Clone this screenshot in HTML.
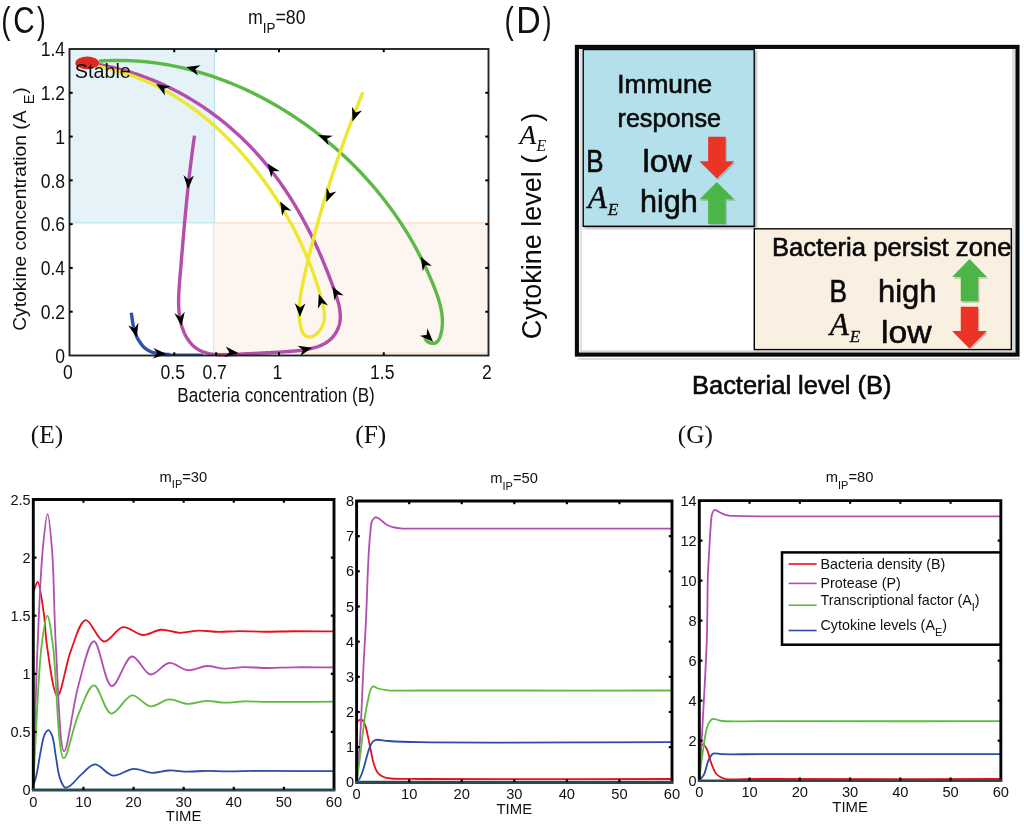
<!DOCTYPE html>
<html><head><meta charset="utf-8"><style>
html,body{margin:0;padding:0;background:#fff;width:1024px;height:825px;overflow:hidden;font-family:"Liberation Sans", sans-serif;}
</style></head><body>
<svg width="1024" height="825" viewBox="0 0 1024 825" style="position:absolute;left:0;top:0;will-change:transform">
<rect x="0" y="0" width="1024" height="825" fill="#fff"/>
<rect x="69.5" y="49.0" width="145.0" height="173.8" fill="#e5f3f8" stroke="#bce4ee" stroke-width="1.2"/>
<rect x="213.6" y="222.9" width="274.9" height="130.1" fill="#fdf5ef" stroke="#fcdcc2" stroke-width="1.2"/>
<path d="M425.35,335.04 L425.03,336.69 L425.14,338.18 L425.62,339.48 L426.40,340.61 L427.42,341.55 L428.61,342.29 L429.92,342.85 L431.27,343.20 L432.61,343.36 L433.87,343.31 L435.01,343.05 L436.02,342.60 L436.92,341.99 L437.71,341.23 L438.40,340.34 L439.01,339.34 L439.54,338.25 L440.00,337.10 L440.41,335.89 L440.76,334.66 L441.08,333.42 L441.36,332.18 L441.60,330.94 L441.81,329.70 L441.99,328.46 L442.13,327.22 L442.25,325.98 L442.33,324.73 L442.38,323.49 L442.40,322.25 L442.40,321.01 L442.37,319.77 L442.31,318.53 L442.22,317.29 L442.11,316.05 L441.98,314.81 L441.82,313.58 L441.64,312.34 L441.43,311.10 L441.21,309.87 L440.96,308.64 L440.70,307.40 L440.42,306.17 L440.12,304.94 L439.80,303.71 L439.46,302.49 L439.11,301.26 L438.75,300.04 L438.37,298.81 L437.98,297.59 L437.57,296.37 L437.16,295.16 L436.73,293.94 L436.29,292.73 L435.85,291.52 L435.40,290.31 L434.93,289.10 L434.47,287.90 L433.99,286.70 L433.51,285.50 L433.03,284.30 L432.54,283.11 L432.05,281.92 L431.55,280.73 L431.05,279.55 L430.55,278.36 L430.04,277.18 L429.53,276.01 L429.02,274.83 L428.50,273.66 L427.98,272.49 L427.45,271.32 L426.92,270.16 L426.39,269.00 L425.85,267.84 L425.31,266.68 L424.76,265.53 L424.21,264.38 L423.66,263.23 L423.10,262.09 L422.54,260.94 L421.98,259.80 L421.41,258.67 L420.84,257.53 L420.26,256.40 L419.68,255.27 L419.10,254.14 L418.51,253.02 L417.92,251.90 L417.33,250.78 L416.73,249.66 L416.13,248.55 L415.52,247.44 L414.91,246.33 L414.30,245.22 L413.69,244.12 L413.06,243.02 L412.44,241.92 L411.81,240.83 L411.18,239.74 L410.55,238.65 L409.91,237.56 L409.27,236.48 L408.62,235.40 L407.97,234.32 L407.32,233.24 L406.66,232.17 L406.00,231.10 L405.33,230.03 L404.67,228.96 L404.00,227.90 L403.32,226.84 L402.64,225.78 L401.96,224.73 L401.27,223.67 L400.58,222.62 L399.89,221.58 L399.19,220.53 L398.49,219.49 L397.79,218.45 L397.08,217.42 L396.37,216.38 L395.66,215.35 L394.94,214.32 L394.22,213.30 L393.49,212.27 L392.77,211.25 L392.03,210.24 L391.30,209.22 L390.56,208.21 L389.82,207.20 L389.07,206.19 L388.32,205.19 L387.57,204.18 L386.81,203.19 L386.05,202.19 L385.29,201.19 L384.52,200.20 L383.75,199.21 L382.98,198.23 L382.20,197.25 L381.42,196.26 L380.64,195.29 L379.85,194.31 L379.06,193.34 L378.27,192.37 L377.47,191.40 L376.67,190.44 L375.86,189.47 L375.05,188.51 L374.24,187.56 L373.43,186.60 L372.61,185.65 L371.79,184.70 L370.97,183.76 L370.14,182.81 L369.31,181.87 L368.47,180.93 L367.63,180.00 L366.79,179.07 L365.95,178.13 L365.10,177.21 L364.25,176.28 L363.39,175.36 L362.54,174.44 L361.68,173.52 L360.81,172.61 L359.94,171.70 L359.07,170.79 L358.20,169.88 L357.32,168.98 L356.44,168.08 L355.56,167.18 L354.67,166.28 L353.78,165.39 L352.88,164.50 L351.99,163.61 L351.09,162.72 L350.18,161.84 L349.28,160.96 L348.37,160.08 L347.46,159.21 L346.54,158.34 L345.62,157.47 L344.70,156.60 L343.77,155.74 L342.84,154.88 L341.91,154.02 L340.98,153.16 L340.04,152.31 L339.10,151.46 L338.16,150.62 L337.21,149.77 L336.26,148.93 L335.31,148.09 L334.35,147.26 L333.39,146.43 L332.43,145.60 L331.47,144.77 L330.50,143.95 L329.53,143.13 L328.56,142.32 L327.58,141.50 L326.60,140.69 L325.62,139.88 L324.64,139.08 L323.65,138.28 L322.66,137.48 L321.67,136.69 L320.67,135.89 L319.68,135.11 L318.68,134.32 L317.67,133.54 L316.67,132.76 L315.66,131.98 L314.65,131.21 L313.63,130.44 L312.61,129.68 L311.59,128.91 L310.57,128.15 L309.55,127.40 L308.52,126.65 L307.49,125.90 L306.46,125.15 L305.42,124.41 L304.39,123.67 L303.35,122.94 L302.30,122.20 L301.26,121.48 L300.21,120.75 L299.16,120.03 L298.11,119.31 L297.05,118.60 L296.00,117.89 L294.94,117.18 L293.87,116.47 L292.81,115.77 L291.74,115.08 L290.67,114.38 L289.60,113.70 L288.53,113.01 L287.45,112.33 L286.37,111.65 L285.29,110.98 L284.21,110.30 L283.12,109.64 L282.04,108.97 L280.95,108.31 L279.86,107.66 L278.76,107.01 L277.67,106.36 L276.57,105.71 L275.47,105.07 L274.36,104.44 L273.26,103.80 L272.15,103.18 L271.04,102.55 L269.93,101.93 L268.82,101.31 L267.70,100.70 L266.59,100.09 L265.47,99.49 L264.34,98.88 L263.22,98.29 L262.10,97.69 L260.97,97.10 L259.84,96.52 L258.71,95.94 L257.57,95.36 L256.44,94.79 L255.30,94.22 L254.16,93.66 L253.02,93.10 L251.88,92.54 L250.74,91.99 L249.59,91.44 L248.44,90.90 L247.29,90.36 L246.14,89.82 L244.99,89.29 L243.83,88.77 L242.68,88.24 L241.52,87.73 L240.36,87.21 L239.19,86.70 L238.03,86.20 L236.86,85.70 L235.70,85.20 L234.53,84.71 L233.36,84.22 L232.19,83.74 L231.01,83.26 L229.84,82.79 L228.66,82.32 L227.48,81.85 L226.30,81.39 L225.12,80.94 L223.94,80.49 L222.75,80.04 L221.57,79.60 L220.38,79.16 L219.19,78.73 L218.00,78.30 L216.81,77.88 L215.62,77.46 L214.42,77.04 L213.23,76.63 L212.03,76.23 L210.83,75.83 L209.63,75.43 L208.43,75.04 L207.23,74.66 L206.02,74.28 L204.82,73.90 L203.61,73.53 L202.40,73.16 L201.19,72.80 L199.98,72.44 L198.77,72.09 L197.56,71.74 L196.34,71.40 L195.13,71.06 L193.91,70.73 L192.69,70.40 L191.48,70.08 L190.26,69.76 L189.03,69.45 L187.81,69.14 L186.59,68.84 L185.37,68.54 L184.14,68.25 L182.91,67.96 L181.69,67.68 L180.46,67.41 L179.23,67.13 L178.00,66.87 L176.77,66.61 L175.53,66.35 L174.30,66.10 L173.07,65.85 L171.83,65.61 L170.60,65.38 L169.36,65.15 L168.12,64.92 L166.88,64.70 L165.64,64.49 L164.40,64.28 L163.16,64.07 L161.92,63.88 L160.68,63.68 L159.43,63.50 L158.19,63.31 L156.95,63.14 L155.70,62.97 L154.45,62.80 L153.21,62.64 L151.96,62.48 L150.71,62.33 L149.46,62.19 L148.21,62.05 L146.96,61.92 L145.71,61.79 L144.46,61.67 L143.21,61.55 L141.95,61.44 L140.70,61.34 L139.45,61.24 L138.19,61.15 L136.94,61.06 L135.68,60.97 L134.42,60.90 L133.17,60.83 L131.91,60.76 L130.65,60.70 L129.40,60.65 L128.14,60.60 L126.88,60.56 L125.62,60.52 L124.36,60.49 L123.10,60.47 L121.84,60.45 L120.58,60.44 L119.32,60.43 L118.06,60.43 L116.80,60.43 L115.54,60.44 L114.27,60.46 L113.01,60.48 L111.75,60.51 L110.49,60.54 L109.22,60.58 L107.96,60.63 L106.70,60.68 L105.43,60.74 L104.17,60.81 L102.91,60.88 L101.64,60.96 L100.38,61.04 L99.11,61.13" fill="none" stroke="#5cb947" stroke-width="3.4" stroke-linecap="butt" stroke-linejoin="round"/>
<path d="M194.53,135.63 L194.25,137.56 L193.98,139.48 L193.70,141.40 L193.43,143.31 L193.17,145.22 L192.91,147.13 L192.65,149.04 L192.39,150.94 L192.14,152.83 L191.90,154.73 L191.65,156.62 L191.41,158.50 L191.17,160.39 L190.94,162.27 L190.70,164.15 L190.48,166.03 L190.25,167.90 L190.03,169.78 L189.81,171.65 L189.59,173.52 L189.37,175.38 L189.16,177.25 L188.95,179.11 L188.75,180.97 L188.54,182.83 L188.34,184.69 L188.14,186.55 L187.94,188.41 L187.75,190.26 L187.55,192.12 L187.36,193.97 L187.17,195.82 L186.99,197.68 L186.80,199.53 L186.62,201.38 L186.43,203.23 L186.25,205.08 L186.08,206.93 L185.90,208.79 L185.72,210.64 L185.55,212.49 L185.38,214.34 L185.20,216.20 L185.03,218.05 L184.87,219.91 L184.70,221.76 L184.53,223.62 L184.36,225.48 L184.20,227.33 L184.04,229.19 L183.87,231.06 L183.71,232.92 L183.55,234.79 L183.39,236.65 L183.23,238.52 L183.07,240.39 L182.91,242.26 L182.75,244.14 L182.59,246.02 L182.43,247.90 L182.27,249.78 L182.11,251.67 L181.95,253.55 L181.79,255.45 L181.63,257.34 L181.47,259.24 L181.32,261.14 L181.16,263.04 L181.00,264.95 L180.84,266.86 L180.68,268.78 L180.51,270.69 L180.35,272.62 L180.19,274.54 L180.03,276.47 L179.86,278.41 L179.70,280.35 L179.54,282.29 L179.39,284.23 L179.24,286.18 L179.10,288.12 L178.98,290.06 L178.87,292.01 L178.77,293.95 L178.69,295.88 L178.64,297.81 L178.60,299.74 L178.59,301.66 L178.60,303.58 L178.65,305.49 L178.72,307.39 L178.83,309.28 L178.97,311.16 L179.15,313.03 L179.37,314.89 L179.63,316.73 L179.93,318.56 L180.28,320.38 L180.68,322.19 L181.12,323.97 L181.62,325.75 L182.17,327.50 L182.77,329.23 L183.44,330.95 L184.16,332.64 L184.95,334.31 L185.79,335.94 L186.69,337.53 L187.66,339.08 L188.68,340.58 L189.77,342.01 L190.91,343.39 L192.12,344.70 L193.39,345.93 L194.73,347.09 L196.13,348.16 L197.58,349.14 L199.11,350.03 L200.69,350.82 L202.33,351.53 L204.01,352.15 L205.75,352.69 L207.53,353.17 L209.35,353.57 L211.21,353.91 L213.10,354.18 L215.02,354.40 L216.96,354.57 L218.93,354.69 L220.91,354.77 L222.91,354.81 L224.91,354.81 L226.92,354.78 L228.94,354.73 L230.95,354.66 L232.96,354.57 L234.95,354.47 L236.94,354.36 L238.91,354.24 L240.85,354.13 L242.78,354.02 L244.68,353.91 L246.56,353.81 L248.43,353.71 L250.28,353.61 L252.11,353.52 L253.93,353.42 L255.75,353.33 L257.55,353.24 L259.35,353.15 L261.15,353.06 L262.94,352.97 L264.73,352.88 L266.53,352.78 L268.32,352.69 L270.12,352.60 L271.93,352.50 L273.75,352.40 L275.58,352.30 L277.42,352.19 L279.28,352.08 L281.16,351.97 L283.05,351.85 L284.96,351.73 L286.90,351.60 L288.86,351.46 L290.83,351.32 L292.82,351.16 L294.82,350.99 L296.83,350.80 L298.84,350.58 L300.85,350.34 L302.85,350.08 L304.83,349.77 L306.81,349.44 L308.77,349.07 L310.70,348.65 L312.60,348.19 L314.48,347.68 L316.32,347.12 L318.12,346.51 L319.87,345.84 L321.58,345.11 L323.23,344.32 L324.83,343.45 L326.37,342.52 L327.85,341.52 L329.25,340.44 L330.59,339.28 L331.85,338.05 L333.03,336.75 L334.13,335.38 L335.15,333.95 L336.08,332.47 L336.93,330.93 L337.69,329.35 L338.35,327.72 L338.93,326.05 L339.40,324.35 L339.77,322.62 L340.05,320.86 L340.22,319.08 L340.30,317.28 L340.29,315.46 L340.20,313.62 L340.03,311.76 L339.79,309.89 L339.48,308.01 L339.12,306.12 L338.69,304.23 L338.22,302.33 L337.70,300.43 L337.14,298.52 L336.54,296.62 L335.92,294.72 L335.28,292.83 L334.62,290.94 L333.94,289.06 L333.26,287.20 L332.58,285.35 L331.89,283.51 L331.21,281.69 L330.53,279.88 L329.84,278.08 L329.16,276.29 L328.47,274.52 L327.78,272.75 L327.09,270.99 L326.39,269.25 L325.69,267.51 L324.99,265.78 L324.29,264.05 L323.58,262.33 L322.86,260.62 L322.14,258.92 L321.41,257.21 L320.68,255.51 L319.94,253.82 L319.20,252.13 L318.44,250.43 L317.68,248.74 L316.92,247.06 L316.14,245.37 L315.36,243.68 L314.56,242.00 L313.76,240.32 L312.96,238.63 L312.14,236.95 L311.32,235.28 L310.49,233.60 L309.65,231.93 L308.80,230.26 L307.95,228.59 L307.08,226.92 L306.21,225.26 L305.33,223.60 L304.44,221.94 L303.55,220.29 L302.65,218.64 L301.73,216.99 L300.81,215.35 L299.89,213.71 L298.95,212.07 L298.01,210.44 L297.05,208.81 L296.09,207.18 L295.12,205.56 L294.15,203.95 L293.16,202.33 L292.17,200.73 L291.16,199.12 L290.15,197.52 L289.13,195.93 L288.11,194.34 L287.07,192.76 L286.02,191.18 L284.97,189.61 L283.91,188.04 L282.84,186.48 L281.76,184.92 L280.68,183.37 L279.58,181.83 L278.48,180.29 L277.36,178.76 L276.24,177.23 L275.11,175.71 L273.97,174.20 L272.83,172.69 L271.67,171.20 L270.51,169.70 L269.33,168.22 L268.15,166.74 L266.96,165.27 L265.76,163.81 L264.55,162.35 L263.33,160.90 L262.11,159.46 L260.87,158.03 L259.63,156.61 L258.37,155.19 L257.11,153.78 L255.84,152.38 L254.56,150.99 L253.27,149.61 L251.98,148.24 L250.67,146.87 L249.36,145.51 L248.04,144.17 L246.70,142.83 L245.36,141.50 L244.02,140.17 L242.66,138.86 L241.30,137.56 L239.92,136.26 L238.54,134.97 L237.15,133.70 L235.76,132.43 L234.35,131.17 L232.94,129.92 L231.52,128.68 L230.09,127.45 L228.65,126.23 L227.21,125.01 L225.76,123.81 L224.30,122.62 L222.83,121.43 L221.36,120.26 L219.87,119.09 L218.38,117.94 L216.89,116.80 L215.38,115.66 L213.87,114.54 L212.35,113.42 L210.83,112.32 L209.30,111.22 L207.76,110.14 L206.21,109.06 L204.66,108.00 L203.10,106.94 L201.53,105.90 L199.96,104.87 L198.37,103.84 L196.79,102.83 L195.19,101.83 L193.59,100.84 L191.99,99.86 L190.37,98.89 L188.75,97.93 L187.13,96.98 L185.50,96.05 L183.86,95.12 L182.21,94.20 L180.56,93.30 L178.91,92.41 L177.24,91.53 L175.57,90.66 L173.90,89.80 L172.22,88.95 L170.53,88.11 L168.84,87.29 L167.15,86.47 L165.44,85.67 L163.73,84.88 L162.02,84.10 L160.30,83.33 L158.58,82.58 L156.84,81.84 L155.11,81.10 L153.37,80.38 L151.62,79.68 L149.87,78.98 L148.12,78.30 L146.35,77.63 L144.59,76.97 L142.82,76.32 L141.04,75.69 L139.26,75.06 L137.48,74.45 L135.69,73.86 L133.89,73.27 L132.09,72.70 L130.29,72.14 L128.48,71.59 L126.67,71.06 L124.85,70.54 L123.03,70.03 L121.20,69.53 L119.37,69.05 L117.54,68.58 L115.70,68.12 L113.86,67.68 L112.01,67.25 L110.16,66.83 L108.31,66.42 L106.45,66.03 L104.59,65.66 L102.73,65.29 L100.86,64.94 L98.98,64.61" fill="none" stroke="#b54eaa" stroke-width="3.4" stroke-linecap="butt" stroke-linejoin="round"/>
<path d="M362.91,92.23 L362.30,93.72 L361.70,95.22 L361.09,96.72 L360.49,98.22 L359.89,99.72 L359.29,101.21 L358.69,102.71 L358.09,104.21 L357.50,105.71 L356.90,107.22 L356.31,108.72 L355.72,110.22 L355.14,111.72 L354.55,113.22 L353.97,114.73 L353.39,116.23 L352.81,117.73 L352.23,119.24 L351.65,120.74 L351.08,122.25 L350.51,123.75 L349.94,125.26 L349.37,126.77 L348.80,128.27 L348.24,129.78 L347.68,131.29 L347.12,132.80 L346.56,134.31 L346.00,135.82 L345.45,137.33 L344.90,138.84 L344.35,140.35 L343.80,141.87 L343.25,143.38 L342.71,144.89 L342.16,146.41 L341.62,147.92 L341.08,149.44 L340.55,150.95 L340.01,152.47 L339.48,153.98 L338.95,155.50 L338.42,157.02 L337.90,158.54 L337.37,160.06 L336.85,161.58 L336.33,163.10 L335.81,164.62 L335.30,166.14 L334.78,167.66 L334.27,169.19 L333.76,170.71 L333.25,172.23 L332.75,173.76 L332.24,175.28 L331.74,176.81 L331.24,178.34 L330.75,179.86 L330.25,181.39 L329.76,182.92 L329.27,184.45 L328.78,185.98 L328.29,187.51 L327.81,189.04 L327.33,190.58 L326.85,192.11 L326.37,193.64 L325.90,195.18 L325.42,196.71 L324.95,198.25 L324.48,199.79 L324.02,201.32 L323.55,202.86 L323.09,204.40 L322.63,205.94 L322.18,207.48 L321.72,209.02 L321.27,210.56 L320.82,212.10 L320.37,213.65 L319.92,215.19 L319.48,216.74 L319.04,218.28 L318.60,219.83 L318.16,221.38 L317.73,222.92 L317.29,224.47 L316.86,226.02 L316.44,227.57 L316.01,229.12 L315.59,230.68 L315.17,232.23 L314.75,233.78 L314.33,235.34 L313.92,236.89 L313.51,238.45 L313.10,240.01 L312.70,241.56 L312.29,243.12 L311.89,244.68 L311.49,246.24 L311.09,247.80 L310.70,249.37 L310.31,250.93 L309.92,252.49 L309.53,254.06 L309.15,255.62 L308.76,257.19 L308.38,258.76 L308.01,260.33 L307.63,261.90 L307.26,263.47 L306.89,265.04 L306.52,266.61 L306.16,268.18 L305.80,269.76 L305.44,271.33 L305.08,272.91 L304.72,274.48 L304.37,276.06 L304.02,277.64 L303.68,279.22 L303.33,280.80 L302.99,282.38 L302.66,283.96 L302.33,285.55 L302.01,287.13 L301.70,288.72 L301.40,290.31 L301.11,291.89 L300.84,293.48 L300.58,295.07 L300.34,296.67 L300.12,298.26 L299.92,299.86 L299.74,301.45 L299.58,303.05 L299.44,304.65 L299.33,306.25 L299.25,307.86 L299.20,309.46 L299.17,311.07 L299.17,312.68 L299.21,314.29 L299.28,315.90 L299.39,317.52 L299.53,319.13 L299.71,320.75 L299.93,322.37 L300.19,324.00 L300.49,325.62 L300.84,327.25 L301.24,328.86 L301.72,330.42 L302.32,331.89 L303.04,333.23 L303.94,334.41 L305.01,335.38 L306.23,336.13 L307.56,336.65 L308.96,336.90 L310.38,336.90 L311.80,336.62 L313.20,336.10 L314.57,335.35 L315.90,334.41 L317.17,333.30 L318.38,332.05 L319.51,330.67 L320.55,329.19 L321.48,327.64 L322.31,326.04 L323.00,324.42 L323.56,322.80 L323.99,321.18 L324.29,319.57 L324.47,317.97 L324.55,316.37 L324.54,314.78 L324.44,313.20 L324.27,311.62 L324.03,310.04 L323.75,308.47 L323.42,306.90 L323.05,305.34 L322.67,303.78 L322.27,302.22 L321.86,300.66 L321.45,299.11 L321.02,297.56 L320.59,296.01 L320.16,294.46 L319.71,292.92 L319.26,291.37 L318.80,289.83 L318.34,288.29 L317.86,286.76 L317.38,285.23 L316.89,283.69 L316.40,282.17 L315.89,280.64 L315.38,279.12 L314.87,277.59 L314.34,276.07 L313.81,274.56 L313.27,273.04 L312.72,271.53 L312.17,270.02 L311.61,268.52 L311.04,267.01 L310.47,265.51 L309.89,264.02 L309.30,262.52 L308.70,261.03 L308.10,259.54 L307.49,258.05 L306.88,256.57 L306.25,255.08 L305.62,253.60 L304.99,252.13 L304.34,250.65 L303.69,249.18 L303.04,247.72 L302.37,246.25 L301.70,244.79 L301.03,243.33 L300.34,241.87 L299.65,240.42 L298.96,238.97 L298.26,237.52 L297.55,236.08 L296.83,234.64 L296.11,233.20 L295.38,231.77 L294.64,230.34 L293.90,228.91 L293.16,227.48 L292.40,226.06 L291.64,224.64 L290.87,223.23 L290.10,221.81 L289.32,220.40 L288.54,219.00 L287.75,217.60 L286.95,216.20 L286.14,214.80 L285.33,213.41 L284.52,212.02 L283.70,210.63 L282.87,209.25 L282.04,207.87 L281.20,206.50 L280.35,205.12 L279.50,203.76 L278.64,202.39 L277.78,201.03 L276.91,199.67 L276.03,198.32 L275.15,196.97 L274.27,195.62 L273.37,194.28 L272.48,192.94 L271.57,191.60 L270.66,190.27 L269.75,188.94 L268.83,187.61 L267.90,186.29 L266.97,184.98 L266.03,183.66 L265.09,182.35 L264.14,181.05 L263.19,179.75 L262.23,178.45 L261.26,177.15 L260.29,175.86 L259.32,174.58 L258.34,173.29 L257.35,172.02 L256.36,170.74 L255.37,169.47 L254.36,168.21 L253.36,166.95 L252.35,165.69 L251.33,164.44 L250.30,163.19 L249.28,161.94 L248.24,160.71 L247.20,159.47 L246.16,158.24 L245.11,157.02 L244.06,155.80 L242.99,154.58 L241.93,153.37 L240.86,152.17 L239.78,150.97 L238.70,149.77 L237.61,148.58 L236.52,147.40 L235.42,146.22 L234.32,145.05 L233.21,143.88 L232.10,142.72 L230.98,141.56 L229.85,140.41 L228.73,139.27 L227.59,138.13 L226.45,137.00 L225.30,135.87 L224.15,134.75 L223.00,133.63 L221.83,132.53 L220.67,131.42 L219.49,130.33 L218.32,129.24 L217.13,128.15 L215.94,127.08 L214.75,126.01 L213.55,124.94 L212.35,123.88 L211.14,122.83 L209.92,121.79 L208.70,120.75 L207.47,119.72 L206.24,118.70 L205.01,117.69 L203.76,116.68 L202.52,115.68 L201.26,114.68 L200.01,113.69 L198.74,112.71 L197.47,111.74 L196.20,110.78 L194.92,109.82 L193.63,108.87 L192.34,107.93 L191.05,107.00 L189.75,106.07 L188.44,105.15 L187.13,104.24 L185.81,103.34 L184.49,102.44 L183.16,101.56 L181.82,100.68 L180.49,99.81 L179.14,98.95 L177.79,98.10 L176.44,97.25 L175.08,96.42 L173.71,95.59 L172.34,94.77 L170.96,93.96 L169.58,93.16 L168.19,92.37 L166.80,91.58 L165.40,90.81 L164.00,90.05 L162.59,89.29 L161.18,88.54 L159.76,87.80 L158.33,87.08 L156.90,86.36 L155.46,85.65 L154.02,84.95 L152.58,84.26 L151.12,83.57 L149.67,82.90 L148.20,82.24 L146.73,81.59 L145.26,80.95 L143.78,80.32 L142.30,79.69 L140.81,79.08 L139.31,78.48 L137.81,77.89 L136.30,77.31 L134.79,76.74 L133.28,76.18 L131.75,75.63 L130.23,75.09 L128.69,74.56 L127.15,74.04 L125.61,73.53 L124.06,73.03 L122.50,72.55 L120.94,72.07 L119.38,71.61 L117.81,71.15 L116.23,70.71 L114.65,70.28 L113.06,69.86 L111.47,69.45 L109.87,69.06 L108.27,68.67 L106.66,68.30 L105.04,67.93 L103.42,67.58 L101.80,67.24 L100.17,66.91 L98.53,66.60" fill="none" stroke="#ede72d" stroke-width="3.4" stroke-linecap="butt" stroke-linejoin="round"/>
<path d="M131.30,312.70 C131.60,314.80 131.88,316.85 132.20,319.00 C132.54,321.27 132.81,323.77 133.30,326.00 C133.76,328.09 134.34,330.01 135.00,332.00 C135.67,334.02 136.36,336.14 137.30,338.00 C138.21,339.79 139.36,341.43 140.50,343.00 C141.60,344.52 142.66,346.05 144.00,347.30 C145.33,348.55 146.93,349.59 148.50,350.50 C150.03,351.39 151.64,352.15 153.30,352.70 C154.97,353.25 156.73,353.53 158.50,353.80 C160.30,354.07 162.13,354.18 164.00,354.30 C165.95,354.42 168.00,354.43 170.00,354.50" fill="none" stroke="#2f4fae" stroke-width="3.4" stroke-linecap="butt" stroke-linejoin="round"/>
<line x1="168" y1="354.4" x2="203" y2="354.6" stroke="#2f4fae" stroke-width="2"/>
<rect x="69.5" y="49.0" width="419.0" height="306.5" fill="none" stroke="#1f2627" stroke-width="1.9"/>
<line x1="69.5" y1="311.71" x2="72.7" y2="311.71" stroke="#000" stroke-width="2"/>
<line x1="488.5" y1="311.71" x2="485.3" y2="311.71" stroke="#000" stroke-width="2"/>
<line x1="69.5" y1="267.93" x2="72.7" y2="267.93" stroke="#000" stroke-width="2"/>
<line x1="488.5" y1="267.93" x2="485.3" y2="267.93" stroke="#000" stroke-width="2"/>
<line x1="69.5" y1="224.14" x2="72.7" y2="224.14" stroke="#000" stroke-width="2"/>
<line x1="488.5" y1="224.14" x2="485.3" y2="224.14" stroke="#000" stroke-width="2"/>
<line x1="69.5" y1="180.36" x2="72.7" y2="180.36" stroke="#000" stroke-width="2"/>
<line x1="488.5" y1="180.36" x2="485.3" y2="180.36" stroke="#000" stroke-width="2"/>
<line x1="69.5" y1="136.57" x2="72.7" y2="136.57" stroke="#000" stroke-width="2"/>
<line x1="488.5" y1="136.57" x2="485.3" y2="136.57" stroke="#000" stroke-width="2"/>
<line x1="69.5" y1="92.79" x2="72.7" y2="92.79" stroke="#000" stroke-width="2"/>
<line x1="488.5" y1="92.79" x2="485.3" y2="92.79" stroke="#000" stroke-width="2"/>
<line x1="174.25" y1="355.5" x2="174.25" y2="352.3" stroke="#000" stroke-width="2"/>
<line x1="174.25" y1="49.0" x2="174.25" y2="52.2" stroke="#000" stroke-width="2"/>
<line x1="216.15" y1="355.5" x2="216.15" y2="352.3" stroke="#000" stroke-width="2"/>
<line x1="216.15" y1="49.0" x2="216.15" y2="52.2" stroke="#000" stroke-width="2"/>
<line x1="279.00" y1="355.5" x2="279.00" y2="352.3" stroke="#000" stroke-width="2"/>
<line x1="279.00" y1="49.0" x2="279.00" y2="52.2" stroke="#000" stroke-width="2"/>
<line x1="383.75" y1="355.5" x2="383.75" y2="352.3" stroke="#000" stroke-width="2"/>
<line x1="383.75" y1="49.0" x2="383.75" y2="52.2" stroke="#000" stroke-width="2"/>
<path d="M186.20,67.00 L200.69,65.23 L195.31,69.32 L198.07,75.50 Z" fill="#000"/>
<path d="M318.40,134.90 L332.98,135.63 L326.98,138.75 L328.64,145.30 Z" fill="#000"/>
<path d="M420.70,256.70 L431.97,265.98 L425.29,264.90 L422.72,271.16 Z" fill="#000"/>
<path d="M433.10,341.80 L419.80,335.79 L426.53,335.08 L427.38,328.37 Z" fill="#000"/>
<path d="M156.20,83.90 L170.56,86.53 L164.20,88.84 L164.99,95.55 Z" fill="#000"/>
<path d="M267.50,163.50 L279.82,171.33 L273.06,171.08 L271.27,177.60 Z" fill="#000"/>
<path d="M332.40,286.40 L343.71,295.62 L337.03,294.58 L334.49,300.85 Z" fill="#000"/>
<path d="M312.10,347.70 L300.16,356.10 L302.97,349.95 L297.63,345.81 Z" fill="#000"/>
<path d="M238.70,353.30 L224.61,357.10 L229.35,352.29 L225.75,346.57 Z" fill="#000"/>
<path d="M181.60,326.00 L174.29,313.36 L180.17,316.71 L184.77,311.75 Z" fill="#000"/>
<path d="M188.10,188.90 L183.36,175.09 L188.48,179.51 L193.95,175.53 Z" fill="#000"/>
<path d="M280.20,201.50 L291.42,210.84 L284.75,209.73 L282.14,215.97 Z" fill="#000"/>
<path d="M352.40,121.40 L352.07,106.81 L355.61,112.57 L362.03,110.43 Z" fill="#000"/>
<path d="M326.20,202.00 L326.58,187.41 L329.84,193.33 L336.35,191.52 Z" fill="#000"/>
<path d="M299.90,316.90 L294.80,303.22 L300.04,307.50 L305.40,303.38 Z" fill="#000"/>
<path d="M318.80,294.10 L328.04,305.40 L321.70,303.04 L317.96,308.67 Z" fill="#000"/>
<path d="M136.70,337.30 L128.21,325.42 L134.38,328.19 L138.49,322.81 Z" fill="#000"/>
<path d="M166.70,354.00 L152.83,358.54 L157.31,353.48 L153.41,347.95 Z" fill="#000"/>
<ellipse cx="87.2" cy="62.9" rx="11.9" ry="6.3" fill="#dc2a22"/>
<text x="74.80" y="77.50" font-size="20.5" text-anchor="start" fill="#111" font-family='"Liberation Sans", sans-serif' textLength="56" lengthAdjust="spacingAndGlyphs">Stable</text>
<text transform="translate(65.10,362.80) scale(0.87,1)" x="0" y="0" font-size="20.2" text-anchor="end" font-family='"Liberation Sans", sans-serif' fill="#111">0</text>
<text transform="translate(65.10,319.01) scale(0.87,1)" x="0" y="0" font-size="20.2" text-anchor="end" font-family='"Liberation Sans", sans-serif' fill="#111">0.2</text>
<text transform="translate(65.10,275.23) scale(0.87,1)" x="0" y="0" font-size="20.2" text-anchor="end" font-family='"Liberation Sans", sans-serif' fill="#111">0.4</text>
<text transform="translate(65.10,231.44) scale(0.87,1)" x="0" y="0" font-size="20.2" text-anchor="end" font-family='"Liberation Sans", sans-serif' fill="#111">0.6</text>
<text transform="translate(65.10,187.66) scale(0.87,1)" x="0" y="0" font-size="20.2" text-anchor="end" font-family='"Liberation Sans", sans-serif' fill="#111">0.8</text>
<text transform="translate(65.10,143.87) scale(0.87,1)" x="0" y="0" font-size="20.2" text-anchor="end" font-family='"Liberation Sans", sans-serif' fill="#111">1</text>
<text transform="translate(65.10,100.09) scale(0.87,1)" x="0" y="0" font-size="20.2" text-anchor="end" font-family='"Liberation Sans", sans-serif' fill="#111">1.2</text>
<text transform="translate(65.10,56.30) scale(0.87,1)" x="0" y="0" font-size="20.2" text-anchor="end" font-family='"Liberation Sans", sans-serif' fill="#111">1.4</text>
<text transform="translate(68.00,378.60) scale(0.87,1)" x="0" y="0" font-size="20.2" text-anchor="middle" font-family='"Liberation Sans", sans-serif' fill="#111">0</text>
<text transform="translate(172.75,378.60) scale(0.87,1)" x="0" y="0" font-size="20.2" text-anchor="middle" font-family='"Liberation Sans", sans-serif' fill="#111">0.5</text>
<text transform="translate(214.65,378.60) scale(0.87,1)" x="0" y="0" font-size="20.2" text-anchor="middle" font-family='"Liberation Sans", sans-serif' fill="#111">0.7</text>
<text transform="translate(277.50,378.60) scale(0.87,1)" x="0" y="0" font-size="20.2" text-anchor="middle" font-family='"Liberation Sans", sans-serif' fill="#111">1</text>
<text transform="translate(382.25,378.60) scale(0.87,1)" x="0" y="0" font-size="20.2" text-anchor="middle" font-family='"Liberation Sans", sans-serif' fill="#111">1.5</text>
<text transform="translate(487.00,378.60) scale(0.87,1)" x="0" y="0" font-size="20.2" text-anchor="middle" font-family='"Liberation Sans", sans-serif' fill="#111">2</text>
<text transform="translate(177.35,402.30) scale(0.842,1)" x="0" y="0" font-size="20.3" text-anchor="start" font-family='"Liberation Sans", sans-serif' fill="#111">Bacteria concentration (B)</text>
<g transform="translate(26,330.8) rotate(-90)"><text x="0" y="0" font-size="19.25" font-family='"Liberation Sans", sans-serif' fill="#111">Cytokine concentration (A<tspan font-size="14.7" dy="8.1" dx="6.2">E</tspan><tspan dy="-8.1" dx="0.6">)</tspan></text></g>
<text transform="translate(247.9,23.9) scale(0.92,1)" x="0" y="0" font-size="19.3" font-family='"Liberation Sans", sans-serif' fill="#111">m<tspan font-size="14.7" dy="8.7">IP</tspan><tspan dy="-8.7">=80</tspan></text>
<text transform="translate(1.37,33.00) scale(0.755,1)" x="0" y="0" font-size="37" font-family='"Liberation Sans", sans-serif' fill="#111">(</text>
<text transform="translate(13.29,33.00) scale(0.8,1)" x="0" y="0" font-size="37" font-family='"Liberation Sans", sans-serif' fill="#111">C</text>
<text transform="translate(36.94,33.00) scale(0.71,1)" x="0" y="0" font-size="37" font-family='"Liberation Sans", sans-serif' fill="#111">)</text>
<text transform="translate(504.52,33.00) scale(0.755,1)" x="0" y="0" font-size="37" font-family='"Liberation Sans", sans-serif' fill="#111">(</text>
<text transform="translate(516.30,33.00) scale(0.915,1)" x="0" y="0" font-size="37" font-family='"Liberation Sans", sans-serif' fill="#111">D</text>
<text transform="translate(542.84,33.00) scale(0.71,1)" x="0" y="0" font-size="37" font-family='"Liberation Sans", sans-serif' fill="#111">)</text>
<defs><filter id="dsh" x="-5%" y="-5%" width="110%" height="110%"><feDropShadow dx="1.6" dy="1.6" stdDeviation="0.9" flood-color="#000" flood-opacity="0.35"/></filter></defs>
<rect x="583.2" y="49.5" width="171" height="176.8" fill="#b3e0eb" stroke="#050505" stroke-width="1.4" filter="url(#dsh)"/>
<rect x="754.3" y="228.8" width="257" height="120.8" fill="#faf0e1" stroke="#050505" stroke-width="1.4" filter="url(#dsh)"/>
<line x1="580.8" y1="49" x2="580.8" y2="353" stroke="#e2e2e2" stroke-width="2.5"/>
<line x1="1013.5" y1="49" x2="1013.5" y2="352.5" stroke="#dadada" stroke-width="2.5"/>
<line x1="581" y1="351.5" x2="1015" y2="351.5" stroke="#d0d0d0" stroke-width="2"/>
<rect x="578" y="358" width="442" height="2" fill="#bbb" opacity="0.5"/>
<rect x="576.9" y="46.9" width="440.6" height="307.7" fill="none" stroke="#070a0b" stroke-width="4.1"/>
<text x="617.2" y="93.4" font-size="26.3" font-family='"Liberation Sans", sans-serif' fill="#0a0a0a" stroke="#0a0a0a" stroke-width="0.6" textLength="95" lengthAdjust="spacingAndGlyphs" >Immune</text>
<text x="617.5" y="127.4" font-size="26.3" font-family='"Liberation Sans", sans-serif' fill="#0a0a0a" stroke="#0a0a0a" stroke-width="0.6" textLength="103.5" lengthAdjust="spacingAndGlyphs" >response</text>
<text x="586.2" y="171.6" font-size="30.7" font-family='"Liberation Sans", sans-serif' fill="#0a0a0a" stroke="#0a0a0a" stroke-width="0.6" textLength="17.3" lengthAdjust="spacingAndGlyphs" >B</text>
<text x="642.5" y="171.6" font-size="31" font-family='"Liberation Sans", sans-serif' fill="#0a0a0a" stroke="#0a0a0a" stroke-width="0.6" textLength="49.3" lengthAdjust="spacingAndGlyphs" >low</text>
<text x="640" y="211.9" font-size="31.5" font-family='"Liberation Sans", sans-serif' fill="#0a0a0a" stroke="#0a0a0a" stroke-width="0.6" textLength="57.8" lengthAdjust="spacingAndGlyphs" >high</text>
<text x="587.8" y="207.5" font-size="31.4" font-family='"Liberation Serif", serif' font-style="italic" fill="#0a0a0a" stroke="#0a0a0a" stroke-width="0.5">A<tspan font-size="17.4" dy="7.6" dx="0.8" stroke-width="0.30">E</tspan></text>
<text x="772" y="256.4" font-size="24.9" font-family='"Liberation Sans", sans-serif' fill="#0a0a0a" stroke="#0a0a0a" stroke-width="0.6" textLength="239.5" lengthAdjust="spacingAndGlyphs" >Bacteria persist zone</text>
<text x="829.6" y="301.9" font-size="31.4" font-family='"Liberation Sans", sans-serif' fill="#0a0a0a" stroke="#0a0a0a" stroke-width="0.6" textLength="17.5" lengthAdjust="spacingAndGlyphs" >B</text>
<text x="878" y="301.9" font-size="31.5" font-family='"Liberation Sans", sans-serif' fill="#0a0a0a" stroke="#0a0a0a" stroke-width="0.6" textLength="58.5" lengthAdjust="spacingAndGlyphs" >high</text>
<text x="881" y="343.2" font-size="31" font-family='"Liberation Sans", sans-serif' fill="#0a0a0a" stroke="#0a0a0a" stroke-width="0.6" textLength="50.5" lengthAdjust="spacingAndGlyphs" >low</text>
<text x="829.8" y="335.0" font-size="31.2" font-family='"Liberation Serif", serif' font-style="italic" fill="#0a0a0a" stroke="#0a0a0a" stroke-width="0.5">A<tspan font-size="17.2" dy="7.1" dx="0.8" stroke-width="0.30">E</tspan></text>
<path d="M716.9,178.5 L734.3,161.3 L725.65,161.3 L725.65,136.7 L708.15,136.7 L708.15,161.3 L699.5,161.3 Z" fill="#555" opacity="0.25" transform="translate(1.3,1.8)"/>
<path d="M716.9,178.5 L734.3,161.3 L725.65,161.3 L725.65,136.7 L708.15,136.7 L708.15,161.3 L699.5,161.3 Z" fill="#ec3426"/>
<path d="M716.9,181.9 L734.3,199.2 L725.65,199.2 L725.65,224.1 L708.15,224.1 L708.15,199.2 L699.5,199.2 Z" fill="#555" opacity="0.25" transform="translate(1.3,1.8)"/>
<path d="M716.9,181.9 L734.3,199.2 L725.65,199.2 L725.65,224.1 L708.15,224.1 L708.15,199.2 L699.5,199.2 Z" fill="#4bb548"/>
<path d="M969.5,259.1 L986.9,277.1 L978.25,277.1 L978.25,301.2 L960.75,301.2 L960.75,277.1 L952.1,277.1 Z" fill="#555" opacity="0.25" transform="translate(1.3,1.8)"/>
<path d="M969.5,259.1 L986.9,277.1 L978.25,277.1 L978.25,301.2 L960.75,301.2 L960.75,277.1 L952.1,277.1 Z" fill="#4bb548"/>
<path d="M969.5,348.4 L986.9,330.9 L978.25,330.9 L978.25,306.8 L960.75,306.8 L960.75,330.9 L952.1,330.9 Z" fill="#555" opacity="0.25" transform="translate(1.3,1.8)"/>
<path d="M969.5,348.4 L986.9,330.9 L978.25,330.9 L978.25,306.8 L960.75,306.8 L960.75,330.9 L952.1,330.9 Z" fill="#ec3426"/>
<g transform="translate(541,339.3) rotate(-90)"><text x="0" y="0" font-size="27" font-family='"Liberation Sans", sans-serif' fill="#0a0a0a">Cytokine level (</text></g>
<g transform="translate(541,121.8) rotate(-90)"><text x="0" y="0" font-size="27" font-family='"Liberation Sans", sans-serif' fill="#0a0a0a">)</text></g>
<text x="519.5" y="144" font-size="27.5" font-family='"Liberation Serif", serif' font-style="italic" fill="#0a0a0a" stroke="#0a0a0a" stroke-width="0">A<tspan font-size="15.8" dy="6.7" dx="0.2" stroke-width="0.00">E</tspan></text>
<text x="692" y="394" font-size="25" font-family='"Liberation Sans", sans-serif' fill="#0a0a0a" stroke="#0a0a0a" stroke-width="0.6" textLength="199.5" lengthAdjust="spacingAndGlyphs" >Bacterial level (B)</text>
<path d="M33.30,592.46 C34.72,588.97 36.21,581.87 37.56,582.00 C39.84,582.22 42.26,602.78 43.82,613.38 C45.41,624.08 45.16,633.96 46.98,645.91 C49.26,660.84 53.37,695.71 57.46,695.88 C61.39,696.04 65.68,663.98 70.89,650.56 C75.29,639.20 79.82,620.87 85.67,620.12 C91.00,619.43 97.45,640.79 103.96,641.50 C109.96,642.14 116.33,627.99 123.01,627.09 C129.32,626.24 136.28,634.66 142.80,634.99 C148.97,635.30 154.94,630.12 161.10,629.76 C167.22,629.40 173.37,632.63 179.64,632.78 C186.06,632.94 192.66,630.71 199.19,630.57 C205.70,630.44 212.17,631.89 218.73,631.97 C225.37,632.05 231.72,631.10 238.78,631.04 C246.66,630.97 255.10,631.68 263.84,631.74 C273.40,631.79 283.16,631.34 293.91,631.27 C306.31,631.19 320.64,631.35 334.00,631.39" fill="none" stroke="#e8101c" stroke-width="1.8" stroke-linejoin="round"/>
<path d="M33.30,784.19 C34.72,738.10 35.79,687.72 37.56,645.91 C39.03,611.19 40.39,574.88 42.67,550.63 C44.09,535.57 46.01,514.13 47.58,514.14 C49.15,514.15 50.87,535.57 52.09,550.63 C54.07,574.88 53.94,613.37 55.85,645.91 C57.86,680.18 59.53,751.00 64.07,751.31 C67.70,751.55 72.84,705.04 78.41,685.42 C83.04,669.07 88.43,641.37 93.94,641.26 C99.53,641.15 104.78,685.34 111.73,686.12 C117.73,686.79 124.98,657.19 132.03,656.49 C138.01,655.89 144.11,673.80 150.57,674.50 C156.51,675.14 162.79,663.58 169.12,662.99 C175.16,662.43 181.32,669.69 187.66,670.20 C194.01,670.71 200.90,666.21 207.20,666.01 C213.06,665.83 218.36,668.36 224.24,668.57 C230.52,668.80 237.23,667.16 243.79,667.06 C250.43,666.96 256.48,667.90 263.84,667.99 C272.85,668.09 283.16,667.40 293.91,667.29 C306.31,667.17 320.64,667.37 334.00,667.41" fill="none" stroke="#b54db0" stroke-width="1.8" stroke-linejoin="round"/>
<path d="M33.30,784.19 C36.06,738.10 37.92,675.20 41.57,645.91 C43.29,632.11 45.43,615.70 47.33,615.70 C49.24,615.70 51.12,632.59 53.00,645.91 C56.59,671.42 57.60,757.46 63.67,758.16 C67.55,758.61 72.83,727.35 78.41,714.47 C83.11,703.58 88.47,685.58 93.94,685.42 C99.41,685.26 104.52,712.52 111.23,713.54 C117.37,714.48 125.06,696.06 132.03,695.41 C138.18,694.84 144.26,705.79 150.57,706.34 C156.63,706.86 162.88,699.74 169.12,699.36 C175.24,699.00 181.45,703.65 187.66,703.90 C193.82,704.14 200.01,701.08 206.20,700.87 C212.37,700.67 218.52,702.52 224.75,702.62 C231.05,702.72 237.00,701.60 243.79,701.46 C251.57,701.29 258.54,701.84 268.85,701.92 C285.47,702.04 312.28,701.77 334.00,701.69" fill="none" stroke="#5cbd3c" stroke-width="1.8" stroke-linejoin="round"/>
<path d="M33.30,777.92 C33.57,779.81 33.67,783.58 34.10,783.61 C34.71,783.64 35.99,777.05 36.91,772.80 C38.20,766.83 39.34,757.80 40.72,751.07 C41.92,745.18 42.75,738.22 44.58,734.57 C45.66,732.42 47.16,729.97 48.39,730.04 C49.71,730.12 51.12,733.15 52.19,735.85 C54.10,740.65 54.72,750.36 56.00,757.46 C57.26,764.38 57.92,772.50 59.81,777.92 C61.18,781.82 62.77,786.57 64.87,787.44 C66.34,788.06 68.05,787.03 69.89,785.93 C73.06,784.03 76.88,778.39 80.91,774.89 C85.18,771.20 89.89,764.66 94.94,764.44 C100.50,764.19 106.59,774.83 112.99,775.59 C119.44,776.36 126.81,769.21 133.53,768.85 C139.83,768.51 146.01,772.58 152.08,772.80 C157.86,773.02 163.27,770.70 169.12,770.48 C175.28,770.25 181.85,771.59 188.16,771.64 C194.38,771.69 200.44,770.87 206.70,770.83 C213.13,770.78 218.91,771.35 226.25,771.41 C235.73,771.48 245.73,771.02 258.82,770.94 C278.72,770.83 308.94,771.10 334.00,771.18" fill="none" stroke="#2b4ca8" stroke-width="1.8" stroke-linejoin="round"/>
<path d="M33.3,790 L33.3,499.5 L334,499.5 L334,790" fill="none" stroke="#050505" stroke-width="2.9"/>
<line x1="31.849999999999998" y1="790" x2="335.45" y2="790" stroke="#2a4a50" stroke-width="3.2"/>
<line x1="33.3" y1="731.90" x2="36.5" y2="731.90" stroke="#000" stroke-width="2.2"/>
<line x1="334" y1="731.90" x2="330.8" y2="731.90" stroke="#000" stroke-width="2.2"/>
<line x1="33.3" y1="673.80" x2="36.5" y2="673.80" stroke="#000" stroke-width="2.2"/>
<line x1="334" y1="673.80" x2="330.8" y2="673.80" stroke="#000" stroke-width="2.2"/>
<line x1="33.3" y1="615.70" x2="36.5" y2="615.70" stroke="#000" stroke-width="2.2"/>
<line x1="334" y1="615.70" x2="330.8" y2="615.70" stroke="#000" stroke-width="2.2"/>
<line x1="33.3" y1="557.60" x2="36.5" y2="557.60" stroke="#000" stroke-width="2.2"/>
<line x1="334" y1="557.60" x2="330.8" y2="557.60" stroke="#000" stroke-width="2.2"/>
<text x="33.30" y="806.60" font-size="14.7" text-anchor="middle" fill="#111" font-family='"Liberation Sans", sans-serif' >0</text>
<line x1="83.42" y1="499.5" x2="83.42" y2="502.7" stroke="#000" stroke-width="2.2"/>
<line x1="83.42" y1="790" x2="83.42" y2="786.8" stroke="#000" stroke-width="2.2"/>
<text x="83.42" y="806.60" font-size="14.7" text-anchor="middle" fill="#111" font-family='"Liberation Sans", sans-serif' >10</text>
<line x1="133.53" y1="499.5" x2="133.53" y2="502.7" stroke="#000" stroke-width="2.2"/>
<line x1="133.53" y1="790" x2="133.53" y2="786.8" stroke="#000" stroke-width="2.2"/>
<text x="133.53" y="806.60" font-size="14.7" text-anchor="middle" fill="#111" font-family='"Liberation Sans", sans-serif' >20</text>
<line x1="183.65" y1="499.5" x2="183.65" y2="502.7" stroke="#000" stroke-width="2.2"/>
<line x1="183.65" y1="790" x2="183.65" y2="786.8" stroke="#000" stroke-width="2.2"/>
<text x="183.65" y="806.60" font-size="14.7" text-anchor="middle" fill="#111" font-family='"Liberation Sans", sans-serif' >30</text>
<line x1="233.77" y1="499.5" x2="233.77" y2="502.7" stroke="#000" stroke-width="2.2"/>
<line x1="233.77" y1="790" x2="233.77" y2="786.8" stroke="#000" stroke-width="2.2"/>
<text x="233.77" y="806.60" font-size="14.7" text-anchor="middle" fill="#111" font-family='"Liberation Sans", sans-serif' >40</text>
<line x1="283.88" y1="499.5" x2="283.88" y2="502.7" stroke="#000" stroke-width="2.2"/>
<line x1="283.88" y1="790" x2="283.88" y2="786.8" stroke="#000" stroke-width="2.2"/>
<text x="283.88" y="806.60" font-size="14.7" text-anchor="middle" fill="#111" font-family='"Liberation Sans", sans-serif' >50</text>
<text x="334.00" y="806.60" font-size="14.7" text-anchor="middle" fill="#111" font-family='"Liberation Sans", sans-serif' >60</text>
<text x="30.70" y="795.15" font-size="14.5" text-anchor="end" fill="#111" font-family='"Liberation Sans", sans-serif' >0</text>
<text x="30.70" y="737.05" font-size="14.5" text-anchor="end" fill="#111" font-family='"Liberation Sans", sans-serif' >0.5</text>
<text x="30.70" y="678.95" font-size="14.5" text-anchor="end" fill="#111" font-family='"Liberation Sans", sans-serif' >1</text>
<text x="30.70" y="620.85" font-size="14.5" text-anchor="end" fill="#111" font-family='"Liberation Sans", sans-serif' >1.5</text>
<text x="30.70" y="562.75" font-size="14.5" text-anchor="end" fill="#111" font-family='"Liberation Sans", sans-serif' >2</text>
<text x="30.70" y="504.65" font-size="14.5" text-anchor="end" fill="#111" font-family='"Liberation Sans", sans-serif' >2.5</text>
<text x="183.65" y="821.20" font-size="14.9" text-anchor="middle" fill="#111" font-family='"Liberation Sans", sans-serif' >TIME</text>
<text x="159.6" y="481.5" font-size="14.7" font-family='"Liberation Sans", sans-serif' fill="#111">m<tspan font-size="11" dy="6.4">IP</tspan><tspan dy="-6.4">=30</tspan></text>
<text x="30.8" y="443.4" font-size="25.3" font-family='"Liberation Serif", serif' fill="#111">(E)</text>
<path d="M356.70,721.80 C358.20,721.00 359.89,719.11 361.20,719.40 C362.62,719.72 363.80,722.11 364.80,724.20 C366.25,727.23 366.92,732.14 367.90,736.40 C368.96,741.04 369.87,746.26 370.90,751.00 C371.88,755.52 372.63,760.33 373.90,764.20 C374.95,767.40 375.83,770.52 377.60,772.70 C379.18,774.65 381.39,776.03 383.60,777.00 C385.82,777.97 387.64,778.14 390.90,778.50 C397.35,779.21 405.52,778.88 420.00,779.00 C462.61,779.37 588.00,779.00 672.00,779.00" fill="none" stroke="#e8101c" stroke-width="1.8" stroke-linejoin="round"/>
<path d="M356.70,782.00 C357.80,768.00 358.98,756.25 360.00,740.00 C361.41,717.60 362.67,682.09 363.80,660.00 C364.60,644.38 365.38,633.34 366.00,620.00 C366.62,606.67 366.97,592.54 367.50,580.00 C367.97,568.87 368.42,557.31 369.00,548.50 C369.42,542.11 369.85,536.90 370.40,532.00 C370.85,528.04 370.74,523.89 371.90,521.30 C372.71,519.49 373.93,517.62 375.30,517.30 C376.67,516.98 378.49,518.42 380.10,519.40 C382.05,520.59 383.88,522.89 386.00,524.20 C388.08,525.48 390.33,526.52 392.70,527.20 C395.15,527.91 396.76,528.03 400.50,528.30 C409.86,528.99 427.58,528.53 450.00,528.60 C497.47,528.74 598.00,528.60 672.00,528.60" fill="none" stroke="#b54db0" stroke-width="1.8" stroke-linejoin="round"/>
<path d="M356.70,781.00 C357.47,775.67 358.22,770.93 359.00,765.00 C359.98,757.60 360.99,748.25 362.00,740.00 C362.99,731.92 363.88,723.18 365.00,716.00 C365.92,710.11 366.97,704.70 368.00,700.00 C368.82,696.26 369.40,692.43 370.50,690.00 C371.22,688.42 371.85,686.73 373.00,686.40 C374.28,686.03 376.01,687.91 378.00,688.50 C380.73,689.31 383.70,689.90 388.00,690.30 C395.63,691.01 404.27,690.45 420.00,690.50 C464.14,690.64 588.00,690.50 672.00,690.50" fill="none" stroke="#5cbd3c" stroke-width="1.8" stroke-linejoin="round"/>
<path d="M356.70,780.80 C357.60,780.13 358.57,779.86 359.40,778.80 C360.78,777.04 361.89,773.49 363.00,770.30 C364.36,766.40 365.50,761.08 366.70,757.00 C367.73,753.50 368.46,750.10 369.70,747.30 C370.73,744.96 371.93,742.43 373.30,741.20 C374.25,740.35 374.99,740.03 376.40,739.80 C379.07,739.36 383.51,740.66 388.50,741.00 C396.53,741.55 404.48,741.90 420.00,742.20 C463.88,743.04 588.00,742.20 672.00,742.20" fill="none" stroke="#2b4ca8" stroke-width="1.8" stroke-linejoin="round"/>
<path d="M356.6,782.3 L356.6,501 L672,501 L672,782.3" fill="none" stroke="#050505" stroke-width="2.9"/>
<line x1="355.15000000000003" y1="782.3" x2="673.45" y2="782.3" stroke="#2a4a50" stroke-width="3.2"/>
<line x1="356.6" y1="747.14" x2="359.8" y2="747.14" stroke="#000" stroke-width="2.2"/>
<line x1="672" y1="747.14" x2="668.8" y2="747.14" stroke="#000" stroke-width="2.2"/>
<line x1="356.6" y1="711.97" x2="359.8" y2="711.97" stroke="#000" stroke-width="2.2"/>
<line x1="672" y1="711.97" x2="668.8" y2="711.97" stroke="#000" stroke-width="2.2"/>
<line x1="356.6" y1="676.81" x2="359.8" y2="676.81" stroke="#000" stroke-width="2.2"/>
<line x1="672" y1="676.81" x2="668.8" y2="676.81" stroke="#000" stroke-width="2.2"/>
<line x1="356.6" y1="641.65" x2="359.8" y2="641.65" stroke="#000" stroke-width="2.2"/>
<line x1="672" y1="641.65" x2="668.8" y2="641.65" stroke="#000" stroke-width="2.2"/>
<line x1="356.6" y1="606.49" x2="359.8" y2="606.49" stroke="#000" stroke-width="2.2"/>
<line x1="672" y1="606.49" x2="668.8" y2="606.49" stroke="#000" stroke-width="2.2"/>
<line x1="356.6" y1="571.33" x2="359.8" y2="571.33" stroke="#000" stroke-width="2.2"/>
<line x1="672" y1="571.33" x2="668.8" y2="571.33" stroke="#000" stroke-width="2.2"/>
<line x1="356.6" y1="536.16" x2="359.8" y2="536.16" stroke="#000" stroke-width="2.2"/>
<line x1="672" y1="536.16" x2="668.8" y2="536.16" stroke="#000" stroke-width="2.2"/>
<text x="356.60" y="798.90" font-size="14.7" text-anchor="middle" fill="#111" font-family='"Liberation Sans", sans-serif' >0</text>
<line x1="409.17" y1="501" x2="409.17" y2="504.2" stroke="#000" stroke-width="2.2"/>
<line x1="409.17" y1="782.3" x2="409.17" y2="779.0999999999999" stroke="#000" stroke-width="2.2"/>
<text x="409.17" y="798.90" font-size="14.7" text-anchor="middle" fill="#111" font-family='"Liberation Sans", sans-serif' >10</text>
<line x1="461.73" y1="501" x2="461.73" y2="504.2" stroke="#000" stroke-width="2.2"/>
<line x1="461.73" y1="782.3" x2="461.73" y2="779.0999999999999" stroke="#000" stroke-width="2.2"/>
<text x="461.73" y="798.90" font-size="14.7" text-anchor="middle" fill="#111" font-family='"Liberation Sans", sans-serif' >20</text>
<line x1="514.30" y1="501" x2="514.30" y2="504.2" stroke="#000" stroke-width="2.2"/>
<line x1="514.30" y1="782.3" x2="514.30" y2="779.0999999999999" stroke="#000" stroke-width="2.2"/>
<text x="514.30" y="798.90" font-size="14.7" text-anchor="middle" fill="#111" font-family='"Liberation Sans", sans-serif' >30</text>
<line x1="566.87" y1="501" x2="566.87" y2="504.2" stroke="#000" stroke-width="2.2"/>
<line x1="566.87" y1="782.3" x2="566.87" y2="779.0999999999999" stroke="#000" stroke-width="2.2"/>
<text x="566.87" y="798.90" font-size="14.7" text-anchor="middle" fill="#111" font-family='"Liberation Sans", sans-serif' >40</text>
<line x1="619.43" y1="501" x2="619.43" y2="504.2" stroke="#000" stroke-width="2.2"/>
<line x1="619.43" y1="782.3" x2="619.43" y2="779.0999999999999" stroke="#000" stroke-width="2.2"/>
<text x="619.43" y="798.90" font-size="14.7" text-anchor="middle" fill="#111" font-family='"Liberation Sans", sans-serif' >50</text>
<text x="672.00" y="798.90" font-size="14.7" text-anchor="middle" fill="#111" font-family='"Liberation Sans", sans-serif' >60</text>
<text x="354.00" y="787.45" font-size="14.5" text-anchor="end" fill="#111" font-family='"Liberation Sans", sans-serif' >0</text>
<text x="354.00" y="752.29" font-size="14.5" text-anchor="end" fill="#111" font-family='"Liberation Sans", sans-serif' >1</text>
<text x="354.00" y="717.12" font-size="14.5" text-anchor="end" fill="#111" font-family='"Liberation Sans", sans-serif' >2</text>
<text x="354.00" y="681.96" font-size="14.5" text-anchor="end" fill="#111" font-family='"Liberation Sans", sans-serif' >3</text>
<text x="354.00" y="646.80" font-size="14.5" text-anchor="end" fill="#111" font-family='"Liberation Sans", sans-serif' >4</text>
<text x="354.00" y="611.64" font-size="14.5" text-anchor="end" fill="#111" font-family='"Liberation Sans", sans-serif' >5</text>
<text x="354.00" y="576.48" font-size="14.5" text-anchor="end" fill="#111" font-family='"Liberation Sans", sans-serif' >6</text>
<text x="354.00" y="541.31" font-size="14.5" text-anchor="end" fill="#111" font-family='"Liberation Sans", sans-serif' >7</text>
<text x="354.00" y="506.15" font-size="14.5" text-anchor="end" fill="#111" font-family='"Liberation Sans", sans-serif' >8</text>
<text x="514.30" y="813.50" font-size="14.9" text-anchor="middle" fill="#111" font-family='"Liberation Sans", sans-serif' >TIME</text>
<text x="490.3" y="483.2" font-size="14.7" font-family='"Liberation Sans", sans-serif' fill="#111">m<tspan font-size="11" dy="7">IP</tspan><tspan dy="-7">=50</tspan></text>
<text x="355.3" y="443.4" font-size="25.3" font-family='"Liberation Serif", serif' fill="#111">(F)</text>
<path d="M699.40,745.50 C700.67,745.17 702.06,744.12 703.20,744.50 C704.58,744.96 705.70,746.93 706.80,749.00 C708.60,752.37 709.61,759.15 711.40,763.60 C713.00,767.57 714.38,771.97 716.80,774.50 C718.81,776.59 720.58,777.57 724.10,778.50 C731.40,780.42 742.73,778.88 760.00,779.00 C804.69,779.31 920.40,779.00 1000.60,779.00" fill="none" stroke="#e8101c" stroke-width="1.8" stroke-linejoin="round"/>
<path d="M699.40,780.00 C699.63,775.77 699.78,773.01 700.10,767.30 C700.76,755.46 702.16,732.20 703.20,712.70 C704.40,690.20 706.02,663.56 706.80,640.00 C707.54,617.73 707.33,590.89 707.90,575.00 C708.23,565.79 708.68,560.66 709.10,553.20 C709.54,545.34 709.93,536.05 710.50,529.00 C710.94,523.52 710.95,517.78 712.00,514.40 C712.61,512.43 713.22,510.42 714.40,510.00 C715.60,509.58 717.60,511.28 719.20,512.00 C720.84,512.74 722.43,513.80 724.10,514.40 C725.70,514.98 727.36,515.35 729.00,515.60 C730.60,515.84 731.56,515.81 733.80,515.90 C739.03,516.10 746.87,516.20 760.00,516.30 C799.80,516.60 920.40,516.30 1000.60,516.30" fill="none" stroke="#b54db0" stroke-width="1.8" stroke-linejoin="round"/>
<path d="M699.40,779.00 C700.67,769.00 701.71,758.37 703.20,749.00 C704.52,740.67 705.46,730.72 707.70,725.50 C708.99,722.51 710.11,719.97 712.30,719.10 C714.79,718.11 717.87,720.57 722.30,721.00 C730.82,721.82 741.99,721.15 760.00,721.20 C805.49,721.32 920.40,721.20 1000.60,721.20" fill="none" stroke="#5cbd3c" stroke-width="1.8" stroke-linejoin="round"/>
<path d="M699.40,780.00 C700.93,778.17 702.66,776.94 704.00,774.50 C705.95,770.95 706.72,763.75 708.60,760.00 C709.95,757.30 711.05,754.62 713.20,753.60 C715.52,752.51 718.23,754.07 722.30,754.20 C730.58,754.47 741.99,754.20 760.00,754.20 C805.49,754.20 920.40,754.20 1000.60,754.20" fill="none" stroke="#2b4ca8" stroke-width="1.8" stroke-linejoin="round"/>
<path d="M699.3,780.7 L699.3,500.6 L1000.85,500.6 L1000.85,780.7" fill="none" stroke="#050505" stroke-width="2.9"/>
<line x1="697.8499999999999" y1="780.7" x2="1002.3000000000001" y2="780.7" stroke="#2a4a50" stroke-width="2.4"/>
<line x1="699.3" y1="740.69" x2="702.5" y2="740.69" stroke="#000" stroke-width="2.2"/>
<line x1="1000.85" y1="740.69" x2="997.65" y2="740.69" stroke="#000" stroke-width="2.2"/>
<line x1="699.3" y1="700.67" x2="702.5" y2="700.67" stroke="#000" stroke-width="2.2"/>
<line x1="1000.85" y1="700.67" x2="997.65" y2="700.67" stroke="#000" stroke-width="2.2"/>
<line x1="699.3" y1="660.66" x2="702.5" y2="660.66" stroke="#000" stroke-width="2.2"/>
<line x1="1000.85" y1="660.66" x2="997.65" y2="660.66" stroke="#000" stroke-width="2.2"/>
<line x1="699.3" y1="620.64" x2="702.5" y2="620.64" stroke="#000" stroke-width="2.2"/>
<line x1="1000.85" y1="620.64" x2="997.65" y2="620.64" stroke="#000" stroke-width="2.2"/>
<line x1="699.3" y1="580.63" x2="702.5" y2="580.63" stroke="#000" stroke-width="2.2"/>
<line x1="1000.85" y1="580.63" x2="997.65" y2="580.63" stroke="#000" stroke-width="2.2"/>
<line x1="699.3" y1="540.61" x2="702.5" y2="540.61" stroke="#000" stroke-width="2.2"/>
<line x1="1000.85" y1="540.61" x2="997.65" y2="540.61" stroke="#000" stroke-width="2.2"/>
<text x="699.30" y="797.30" font-size="14.7" text-anchor="middle" fill="#111" font-family='"Liberation Sans", sans-serif' >0</text>
<line x1="749.56" y1="500.6" x2="749.56" y2="503.8" stroke="#000" stroke-width="2.2"/>
<line x1="749.56" y1="780.7" x2="749.56" y2="777.5" stroke="#000" stroke-width="2.2"/>
<text x="749.56" y="797.30" font-size="14.7" text-anchor="middle" fill="#111" font-family='"Liberation Sans", sans-serif' >10</text>
<line x1="799.82" y1="500.6" x2="799.82" y2="503.8" stroke="#000" stroke-width="2.2"/>
<line x1="799.82" y1="780.7" x2="799.82" y2="777.5" stroke="#000" stroke-width="2.2"/>
<text x="799.82" y="797.30" font-size="14.7" text-anchor="middle" fill="#111" font-family='"Liberation Sans", sans-serif' >20</text>
<line x1="850.08" y1="500.6" x2="850.08" y2="503.8" stroke="#000" stroke-width="2.2"/>
<line x1="850.08" y1="780.7" x2="850.08" y2="777.5" stroke="#000" stroke-width="2.2"/>
<text x="850.08" y="797.30" font-size="14.7" text-anchor="middle" fill="#111" font-family='"Liberation Sans", sans-serif' >30</text>
<line x1="900.33" y1="500.6" x2="900.33" y2="503.8" stroke="#000" stroke-width="2.2"/>
<line x1="900.33" y1="780.7" x2="900.33" y2="777.5" stroke="#000" stroke-width="2.2"/>
<text x="900.33" y="797.30" font-size="14.7" text-anchor="middle" fill="#111" font-family='"Liberation Sans", sans-serif' >40</text>
<line x1="950.59" y1="500.6" x2="950.59" y2="503.8" stroke="#000" stroke-width="2.2"/>
<line x1="950.59" y1="780.7" x2="950.59" y2="777.5" stroke="#000" stroke-width="2.2"/>
<text x="950.59" y="797.30" font-size="14.7" text-anchor="middle" fill="#111" font-family='"Liberation Sans", sans-serif' >50</text>
<text x="1000.85" y="797.30" font-size="14.7" text-anchor="middle" fill="#111" font-family='"Liberation Sans", sans-serif' >60</text>
<text x="696.70" y="785.85" font-size="14.5" text-anchor="end" fill="#111" font-family='"Liberation Sans", sans-serif' >0</text>
<text x="696.70" y="745.84" font-size="14.5" text-anchor="end" fill="#111" font-family='"Liberation Sans", sans-serif' >2</text>
<text x="696.70" y="705.82" font-size="14.5" text-anchor="end" fill="#111" font-family='"Liberation Sans", sans-serif' >4</text>
<text x="696.70" y="665.81" font-size="14.5" text-anchor="end" fill="#111" font-family='"Liberation Sans", sans-serif' >6</text>
<text x="696.70" y="625.79" font-size="14.5" text-anchor="end" fill="#111" font-family='"Liberation Sans", sans-serif' >8</text>
<text x="696.70" y="585.78" font-size="14.5" text-anchor="end" fill="#111" font-family='"Liberation Sans", sans-serif' >10</text>
<text x="696.70" y="545.76" font-size="14.5" text-anchor="end" fill="#111" font-family='"Liberation Sans", sans-serif' >12</text>
<text x="696.70" y="505.75" font-size="14.5" text-anchor="end" fill="#111" font-family='"Liberation Sans", sans-serif' >14</text>
<text x="850.08" y="811.90" font-size="14.9" text-anchor="middle" fill="#111" font-family='"Liberation Sans", sans-serif' >TIME</text>
<text x="825.8" y="482" font-size="14.7" font-family='"Liberation Sans", sans-serif' fill="#111">m<tspan font-size="11" dy="6.8">IP</tspan><tspan dy="-6.8">=80</tspan></text>
<text x="677.8" y="443.4" font-size="25.3" font-family='"Liberation Serif", serif' fill="#111">(G)</text>
<rect x="782" y="552.4" width="218.6" height="92.3" fill="#fff" stroke="#000" stroke-width="2.5"/>
<line x1="788.6" y1="564" x2="816.6" y2="564" stroke="#e8101c" stroke-width="1.6"/>
<line x1="788.6" y1="583.4" x2="816.6" y2="583.4" stroke="#b54db0" stroke-width="1.6"/>
<line x1="788.6" y1="605.2" x2="816.6" y2="605.2" stroke="#5cbd3c" stroke-width="1.6"/>
<line x1="788.6" y1="630.5" x2="816.6" y2="630.5" stroke="#2b4ca8" stroke-width="1.6"/>
<text x="820.50" y="569.00" font-size="14.3" text-anchor="start" fill="#111" font-family='"Liberation Sans", sans-serif' >Bacteria density (B)</text>
<text x="820.50" y="588.00" font-size="14.3" text-anchor="start" fill="#111" font-family='"Liberation Sans", sans-serif' >Protease (P)</text>
<text x="820.5" y="605" font-size="14.3" font-family='"Liberation Sans", sans-serif' fill="#111">Transcriptional factor (A<tspan font-size="11" dy="6">I</tspan><tspan dy="-6">)</tspan></text>
<text x="820.5" y="630" font-size="14.3" font-family='"Liberation Sans", sans-serif' fill="#111">Cytokine levels (A<tspan font-size="11" dy="6">E</tspan><tspan dy="-6">)</tspan></text>
</svg>
</body></html>
